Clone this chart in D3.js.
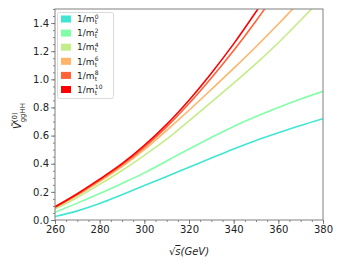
<!DOCTYPE html>
<html><head><meta charset="utf-8">
<script src="https://cdn.jsdelivr.net/npm/d3@7/dist/d3.min.js"></script>
<style>body{margin:0;background:#fff}svg{display:block}text{font-family:"DejaVu Sans",sans-serif;fill:#222}</style>
</head><body><svg id="c" width="339" height="264"></svg>
<script>
const energies = [260,270,280,290,300,310,320,330,340,350,360,370,380];
const orders = ["0","2","4","6","8","10"];
const colors = ["#40e6d2","#80ffa6","#c4ec88","#ffb468","#ff6438","#ff0000"];
const v0  = [0.025,0.065,0.117,0.180,0.245,0.310,0.375,0.440,0.505,0.565,0.620,0.672,0.720];
const v2  = [0.055,0.120,0.188,0.260,0.335,0.420,0.505,0.587,0.665,0.735,0.800,0.860,0.915];
const v4  = [0.078,0.160,0.253,0.352,0.460,0.575,0.705,0.838,0.973,1.112,1.260,1.420,1.585];
const v6  = [0.086,0.175,0.274,0.380,0.500,0.637,0.780,0.928,1.078,1.232,1.393,1.560,1.730];
const v8  = [0.090,0.182,0.284,0.392,0.517,0.662,0.828,1.010,1.205,1.415,1.640,1.870,2.100];
const v10 = [0.094,0.187,0.290,0.400,0.530,0.680,0.852,1.044,1.252,1.480,1.720,1.970,2.220];
const series = [v0,v2,v4,v6,v8,v10];
const xTicks = [260,280,300,320,340,360,380];
const yTicks = [0.0,0.2,0.4,0.6,0.8,1.0,1.2,1.4];

const svg = d3.select("#c");
const L=55,R=323,T=9,B=220;
const x = d3.scaleLinear().domain([260,380]).range([L,R]);
const y = d3.scaleLinear().domain([0,1.5]).range([B,T]);

svg.append("defs").append("clipPath").attr("id","clip").append("rect")
  .attr("x",L).attr("y",T).attr("width",R-L).attr("height",B-T);

const line = d3.line().curve(d3.curveCatmullRom.alpha(0.5)).x((d,i)=>x(energies[i])).y(d=>y(d));
const g = svg.append("g").attr("clip-path","url(#clip)");
series.forEach((s,k)=>{
  g.append("path").datum(s).attr("d",line).attr("fill","none")
   .attr("stroke",colors[k]).attr("stroke-width",1.6);
});

// axes
const ax = svg.append("g").attr("transform",`translate(0,${B})`)
  .call(d3.axisBottom(x).tickValues(xTicks).tickFormat(d3.format("d")).tickSize(4).tickPadding(2));
const axm = svg.append("g").attr("transform",`translate(0,${B})`)
  .call(d3.axisBottom(x).tickValues(d3.range(260,381,5)).tickFormat("").tickSize(2));
const ay = svg.append("g").attr("transform",`translate(${L},0)`)
  .call(d3.axisLeft(y).tickValues(yTicks).tickFormat(d3.format(".1f")).tickSize(4).tickPadding(2));
const aym = svg.append("g").attr("transform",`translate(${L},0)`)
  .call(d3.axisLeft(y).tickValues(d3.range(0,1.501,0.05)).tickFormat("").tickSize(2));
[ax,axm,ay,aym].forEach(a=>{
  a.select(".domain").remove();
  a.selectAll("line").attr("stroke","#666").attr("stroke-width",0.8);
  a.selectAll("text").attr("font-size",10).attr("font-family","DejaVu Sans").attr("fill","#222");
});
svg.append("rect").attr("x",L).attr("y",T).attr("width",R-L).attr("height",B-T)
  .attr("fill","none").attr("stroke","#808080").attr("stroke-width",1);

// axis labels
const xl = svg.append("text").attr("x",189).attr("y",255).attr("text-anchor","middle")
  .attr("font-size",10).attr("font-style","italic");
xl.append("tspan").text("√");
xl.append("tspan").text("s").attr("text-decoration","overline");
xl.append("tspan").text("(GeV)");

const yl = svg.append("text").attr("transform","translate(21,116) rotate(-90)")
  .attr("text-anchor","middle").attr("font-size",10);
yl.append("tspan").text("Ṽ").attr("font-style","italic");
yl.append("tspan").text("(0)").attr("font-size",7).attr("dy",-4.5);
yl.append("tspan").text("ggHH").attr("font-size",7).attr("dx",-10).attr("dy",8);

// legend
const lg = svg.append("g");
lg.append("rect").attr("x",57.5).attr("y",12.5).attr("width",56).attr("height",86).attr("rx",2)
  .attr("fill","#fff").attr("fill-opacity",0.85).attr("stroke","#d0d0d0").attr("stroke-width",0.8);
orders.forEach((o,k)=>{
  const cy = 19 + k*14.1;
  lg.append("rect").attr("x",61).attr("y",cy-3.5).attr("width",10).attr("height",7).attr("fill",colors[k]);
  const t = lg.append("text").attr("x",77).attr("y",cy+3.2).attr("font-size",9).text("1/m");
  const w = t.node().getComputedTextLength();
  lg.append("text").attr("x",77+w+0.3).attr("y",cy-0.5).attr("font-size",6).text(o);
  lg.append("text").attr("x",77+w+0.3).attr("y",cy+5.2).attr("font-size",6).text("t");
});
</script></body></html>
